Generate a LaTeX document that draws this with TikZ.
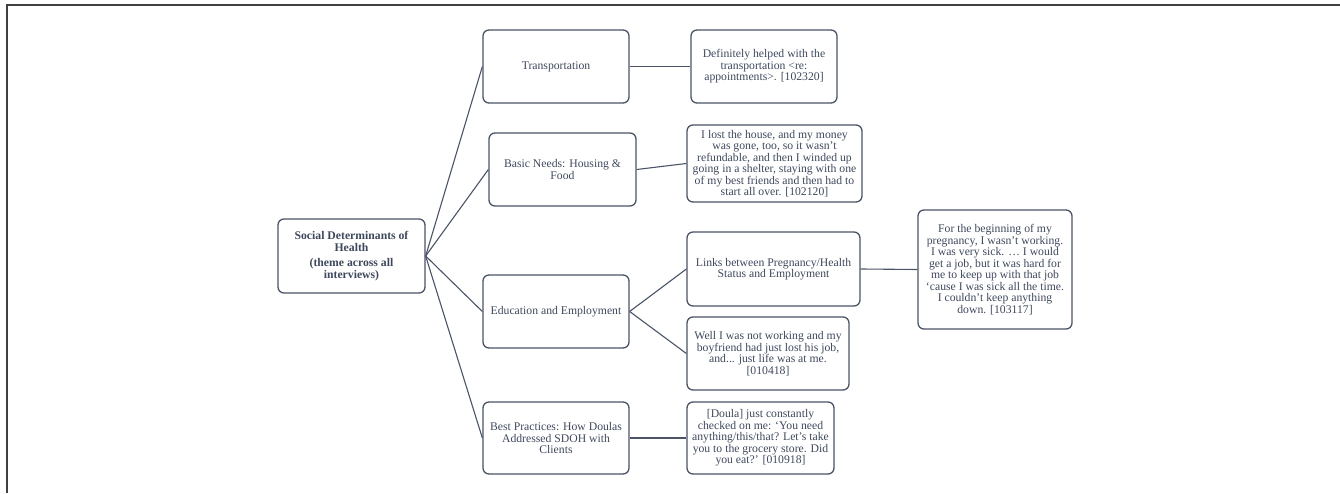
\documentclass[tikz,border=0pt]{standalone}
\usepackage{fontspec}
\setmainfont{Liberation Serif}
\usepackage{tikz}

\definecolor{boxline}{HTML}{4A5466}
\definecolor{boxtext}{HTML}{3E485C}

\begin{document}
\begin{tikzpicture}[x=1pt,y=1pt,
 box/.style={draw=boxline, line width=1.3pt, rounded corners=6pt, align=center,
  text=boxtext, font=\fontsize{11.7}{11.5}\selectfont, inner sep=2pt},
 link/.style={draw=boxline, line width=1.1pt}]
 \useasboundingbox (0,0) rectangle (1340,493);
 \draw[line width=1.6pt, black!75] (7,0) -- (7,488) -- (1340,488);

 \node[box, minimum width=147, minimum height=74, font=\fontsize{11.7}{11.5}\selectfont\bfseries] (R) at(351.5,237)
  {Social Determinants of\\ Health\\[4pt] (theme across all\\ interviews)};

 \node[box, minimum width=146, minimum height=73] (T) at(556,426.5) {Transportation};
 \node[box, minimum width=146, minimum height=73] (TQ) at(764,426.5)
  {Definitely helped with the\\ transportation <re:\\ appointments>. [102320]};

 \node[box, minimum width=147, minimum height=73] (B) at(562.5,323.5) {Basic Needs: Housing \&\\ Food};
 \node[box, minimum width=175, minimum height=77] (BQ) at(774.5,329.5)
  {I lost the house, and my money\\ was gone, too, so it wasn’t\\ refundable, and then I winded up\\
   going in a shelter, staying with one\\ of my best friends and then had to\\ start all over. [102120]};

 \node[box, minimum width=146, minimum height=73] (E) at(556,181.5) {Education and Employment};
 \node[box, minimum width=173, minimum height=74] (L) at(773.5,224) {Links between Pregnancy/Health\\ Status and Employment};
 \node[box, minimum width=162, minimum height=73] (W) at(768,139.5)
  {Well I was not working and my\\ boyfriend had just lost his job,\\ and... just life was at me.\\ {[010418]}};
 \node[box, minimum width=154, minimum height=119] (F) at(995,223.5)
  {For the beginning of my\\ pregnancy, I wasn’t working.\\ I was very sick. … I would\\ get a job, but it was hard for\\
   me to keep up with that job\\ ‘cause I was sick all the time.\\ I couldn’t keep anything\\ down. [103117]};

 \node[box, minimum width=146, minimum height=72] (P) at(556,55) {Best Practices: How Doulas\\ Addressed SDOH with\\ Clients};
 \node[box, minimum width=147, minimum height=72] (PQ) at(760.5,55)
  {[Doula] just constantly\\ checked on me: ‘You need\\ anything/this/that? Let’s take\\ you to the grocery store. Did\\ you eat?’ [010918]};

 % root to themes
 \draw[link] (R.east) -- (T.west);
 \draw[link] (R.east) -- (B.west);
 \draw[link] (R.east) -- (E.west);
 \draw[link] (R.east) -- (P.west);

 \draw[link] (T) -- (TQ);
 \draw[link] (B.east) -- (BQ.west);
 \draw[link] (E.east) -- (L.west);
 \draw[link] (E.east) -- (W.west);
 \draw[link] (L.east) -- (F.west);
 \draw[link] (P) -- (PQ);

\end{tikzpicture}
\end{document}
